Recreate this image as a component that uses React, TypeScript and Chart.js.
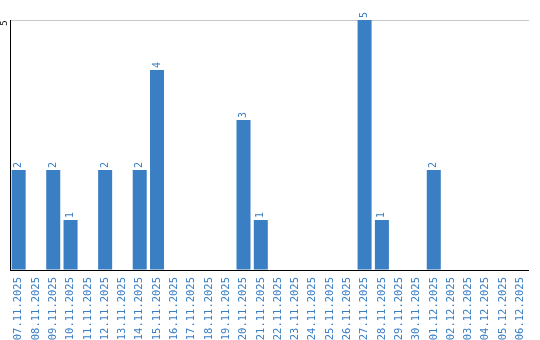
import React, { useEffect, useRef } from "react";
import { Chart, registerables } from "chart.js";

Chart.register(...registerables);

const categories = [
  "07.11.2025", "08.11.2025", "09.11.2025", "10.11.2025", "11.11.2025", "12.11.2025",
  "13.11.2025", "14.11.2025", "15.11.2025", "16.11.2025", "17.11.2025", "18.11.2025",
  "19.11.2025", "20.11.2025", "21.11.2025", "22.11.2025", "23.11.2025", "24.11.2025",
  "25.11.2025", "26.11.2025", "27.11.2025", "28.11.2025", "29.11.2025", "30.11.2025",
  "01.12.2025", "02.12.2025", "03.12.2025", "04.12.2025", "05.12.2025", "06.12.2025",
];
const values = [2, 0, 2, 1, 0, 2, 0, 2, 4, 0, 0, 0, 0, 3, 1, 0, 0, 0, 0, 0, 5, 1, 0, 0, 2, 0, 0, 0, 0, 0];
const yTickLabels = [5];

const BLUE = "#3a7ec3";
const FONT = "'DejaVu Sans Mono', monospace";

const labelPlugin = {
  id: "rotLabels",
  afterDatasetsDraw(chart: any) {
    const ctx = chart.ctx;
    const meta = chart.getDatasetMeta(0);
    ctx.save();
    ctx.fillStyle = BLUE;
    ctx.font = `10px ${FONT}`;
    ctx.textAlign = "left";
    ctx.textBaseline = "middle";
    meta.data.forEach((bar: any, i: number) => {
      const v = values[i];
      if (!v) return;
      ctx.save();
      ctx.translate(bar.x, bar.y - 2);
      ctx.rotate(-Math.PI / 2);
      ctx.fillText(String(v), 0, 0);
      ctx.restore();
    });
    const ys = chart.scales.y;
    ctx.fillStyle = "#000";
    ctx.font = `9px ${FONT}`;
    yTickLabels.forEach((t) => {
      const py = ys.getPixelForValue(t);
      ctx.save();
      ctx.translate(5, py + 3);
      ctx.rotate(-Math.PI / 2);
      ctx.textAlign = "center";
      ctx.textBaseline = "middle";
      ctx.fillText(String(t), 0, 0);
      ctx.restore();
    });
    ctx.restore();
  },
};

export default function App() {
  const ref = useRef<HTMLCanvasElement | null>(null);
  useEffect(() => {
    if (!ref.current) return;
    const chart = new Chart(ref.current, {
      type: "bar",
      data: {
        labels: categories,
        datasets: [
          {
            data: values,
            backgroundColor: BLUE,
            barPercentage: 1,
            categoryPercentage: 0.81,
          },
        ],
      },
      options: {
        animation: false,
        responsive: false,
        maintainAspectRatio: false,
        layout: { padding: { left: 10, top: 20, right: 8, bottom: 0 } },
        plugins: { legend: { display: false }, tooltip: { enabled: false } },
        scales: {
          x: {
            grid: { display: false, drawTicks: false },
            border: { color: "#000", width: 1 },
            afterFit: (scale: any) => {
              scale.height = 70;
            },
            ticks: {
              autoSkip: false,
              minRotation: 90,
              maxRotation: 90,
              color: BLUE,
              padding: 7,
              font: { family: FONT, size: 10.5 },
            },
          },
          y: {
            min: 0,
            max: 5,
            grid: { color: "#c8c8c8", drawTicks: false },
            border: { color: "#000", width: 1 },
            ticks: { display: false, stepSize: 5 },
          },
        },
      },
      plugins: [labelPlugin],
    });
    return () => chart.destroy();
  }, []);
  return (
    <div style={{ position: "absolute", left: 0, top: 0, width: 540, height: 340 }}>
      <canvas ref={ref} width={540} height={340} style={{ width: 540, height: 340 }} />
    </div>
  );
}
